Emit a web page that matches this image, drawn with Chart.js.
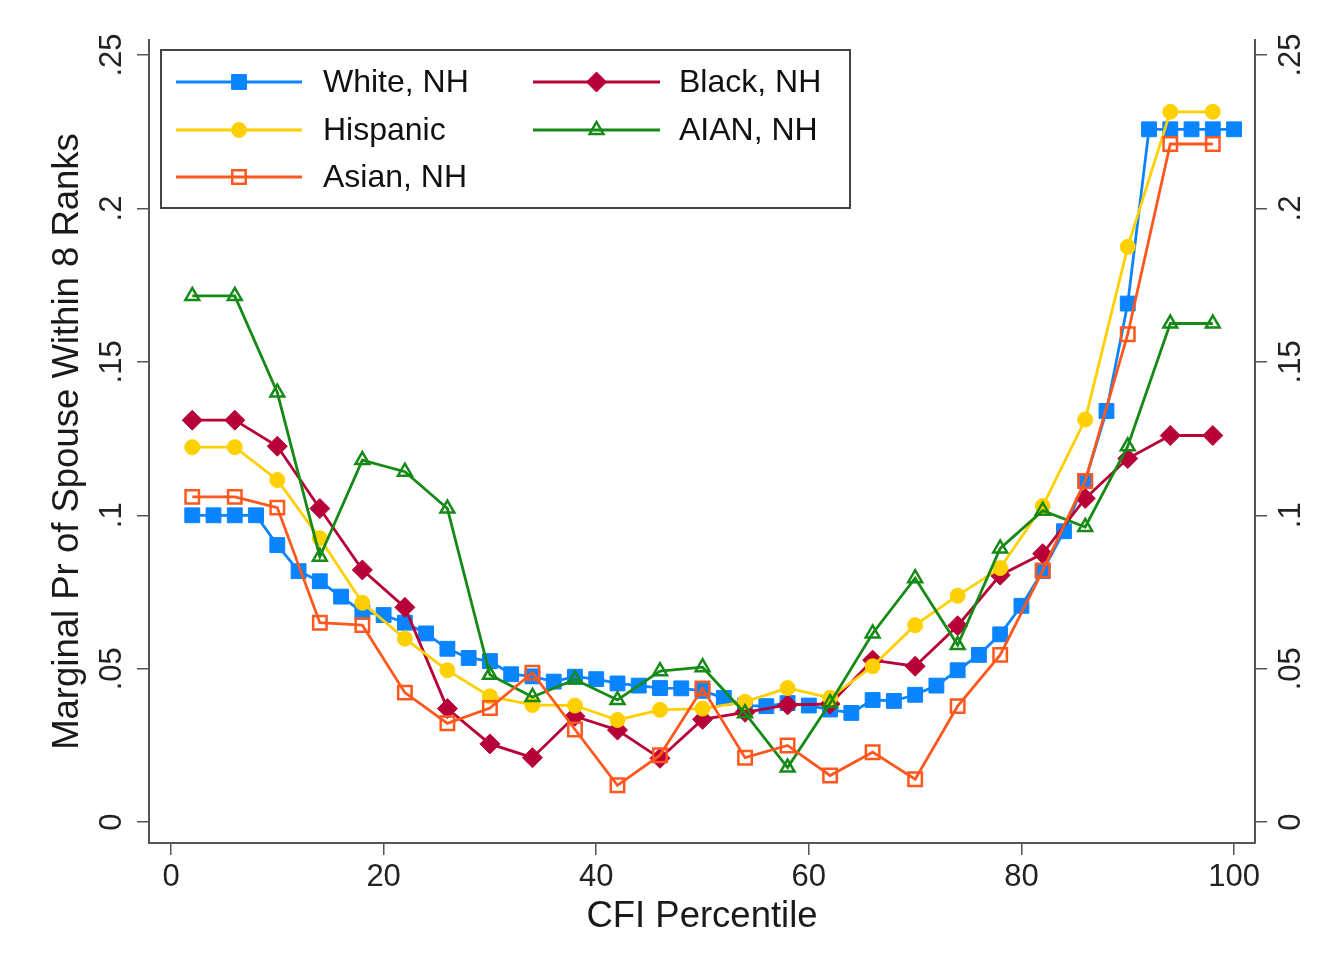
<!DOCTYPE html>
<html>
<head>
<meta charset="utf-8">
<script src="https://cdn.jsdelivr.net/npm/chart.js@4.4.1/dist/chart.umd.min.js"></script>
<style>
html,body{margin:0;padding:0;background:#fff;}
#wrap{width:1332px;height:974px;position:relative;}
</style>
</head>
<body>
<div id="wrap"><canvas id="c"></canvas></div>
<script>
// ---- data ----
const pctWhite = [2,4,6,8,10,12,14,16,18,20,22,24,26,28,30,32,34,36,38,40,42,44,46,48,50,
                  52,54,56,58,60,62,64,66,68,70,72,74,76,78,80,82,84,86,88,90,92,94,96,98,100];
const pctGroups = [2,6,10,14,18,22,26,30,34,38,42,46,50,54,58,62,66,70,74,78,82,86,90,94,98];

const whiteNH = [0.100,0.100,0.100,0.100,0.0903,0.0818,0.0785,0.0735,0.0685,0.0675,0.0650,0.0615,0.0565,0.0535,0.0525,
                 0.0482,0.0475,0.0458,0.0474,0.0466,0.0452,0.0445,0.0437,0.0436,0.0428,0.0405,0.0380,0.0378,0.0388,0.0380,
                 0.0367,0.0356,0.0398,0.0395,0.0415,0.0445,0.0495,0.0545,0.0612,0.0705,0.0818,0.0948,0.1112,0.1340,0.1690,
                 0.2258,0.2258,0.2258,0.2258,0.2258];
const hispanic = [0.1222,0.1222,0.1115,0.0925,0.0715,0.0598,0.0495,0.0410,0.0382,0.0380,0.0333,0.0366,0.0370,
                  0.0392,0.0437,0.0405,0.0508,0.0642,0.0738,0.0828,0.1030,0.1312,0.1875,0.2315,0.2315];
const asianNH = [0.1060,0.1060,0.1025,0.0650,0.0642,0.0422,0.0322,0.0372,0.0487,0.0302,0.0120,0.0218,0.0436,
                 0.0210,0.0250,0.0152,0.0228,0.0140,0.0378,0.0545,0.0820,0.1112,0.1590,0.2210,0.2210];
const blackNH = [0.1310,0.1310,0.1225,0.1022,0.0822,0.0700,0.0370,0.0255,0.0210,0.0345,0.0300,0.0208,0.0335,
                 0.0358,0.0382,0.0385,0.0528,0.0508,0.0640,0.0805,0.0875,0.1055,0.1185,0.1260,0.1260];
const aianNH = [0.1715,0.1715,0.1400,0.0865,0.1180,0.1142,0.1022,0.0480,0.0408,0.0465,0.0398,0.0492,0.0505,
                0.0355,0.0178,0.0388,0.0615,0.0795,0.0577,0.0892,0.1015,0.0962,0.1225,0.1625,0.1625];

const xTicks = [0,20,40,60,80,100];
const yTicks = [0,0.05,0.1,0.15,0.2,0.25];
const yTickLabels = ["0",".05",".1",".15",".2",".25"];
const seriesNames = ["White, NH","Black, NH","Hispanic","AIAN, NH","Asian, NH"];

// ---- styles ----
const C_WHITE = 'rgb(10,132,255)';
const C_BLACK = 'rgb(184,0,56)';
const C_HISP  = 'rgb(255,208,0)';
const C_AIAN  = 'rgb(22,138,22)';
const C_ASIAN = 'rgb(255,88,30)';
const AXIS = '#555';
const FONT = '"Liberation Sans", Arial, Helvetica, sans-serif';
const LW = 2.8;

function pts(xs, ys){ return xs.map((x,i)=>({x:x, y:ys[i]})); }

const datasets = [
  {label:seriesNames[0], data:pts(pctWhite,whiteNH), borderColor:C_WHITE, backgroundColor:C_WHITE,
   pointStyle:'rect', pointRadius:10.5, pointBorderWidth:1, borderWidth:LW, order:5},
  {label:seriesNames[1], data:pts(pctGroups,blackNH), borderColor:C_BLACK, backgroundColor:C_BLACK,
   pointStyle:'rectRot', pointRadius:10, pointBorderWidth:1, borderWidth:LW, order:4},
  {label:seriesNames[2], data:pts(pctGroups,hispanic), borderColor:C_HISP, backgroundColor:C_HISP,
   pointStyle:'circle', pointRadius:7.5, pointBorderWidth:1, borderWidth:LW, order:3},
  {label:seriesNames[3], data:pts(pctGroups,aianNH), borderColor:C_AIAN, backgroundColor:'rgba(0,0,0,0)',
   pointStyle:'triangle', pointRadius:8, pointBorderWidth:2.5, borderWidth:LW, order:2},
  {label:seriesNames[4], data:pts(pctGroups,asianNH), borderColor:C_ASIAN, backgroundColor:'rgba(0,0,0,0)',
   pointStyle:'rect', pointRadius:9.5, pointBorderWidth:2.5, borderWidth:LW, order:1}
];
datasets.forEach(d=>{ d.pointBorderColor=d.borderColor; d.pointBackgroundColor=d.backgroundColor;
  d.pointHoverRadius=d.pointRadius; d.tension=0; d.fill=false; });

// ---- legend drawn inside plot ----
function marker(ctx, style, r, x, y, fill, stroke, bw){
  ctx.save();
  ctx.beginPath();
  if (style==='rect'){ const s=Math.SQRT1_2*r; ctx.rect(x-s,y-s,2*s,2*s); }
  else if (style==='rectRot'){ ctx.moveTo(x-r,y); ctx.lineTo(x,y-r); ctx.lineTo(x+r,y); ctx.lineTo(x,y+r); ctx.closePath(); }
  else if (style==='circle'){ ctx.arc(x,y,r,0,Math.PI*2); }
  else if (style==='triangle'){ ctx.moveTo(x,y-r); ctx.lineTo(x+0.866*r,y+r/2); ctx.lineTo(x-0.866*r,y+r/2); ctx.closePath(); }
  ctx.fillStyle=fill; ctx.fill();
  ctx.lineWidth=bw; ctx.strokeStyle=stroke; ctx.stroke();
  ctx.restore();
}
const legendPlugin = {
  id:'insideLegend',
  afterDraw(chart){
    const ctx = chart.ctx, a = chart.chartArea;
    const bx = a.left+12, by = a.top+10, bw = 689, bh = 158;
    ctx.save();
    ctx.fillStyle='#fff'; ctx.fillRect(bx,by,bw,bh);
    ctx.lineWidth=2; ctx.strokeStyle='#444'; ctx.strokeRect(bx,by,bw,bh);
    const items = [datasets[0],datasets[2],datasets[4],datasets[1],datasets[3]];
    const rows = [32,80,127];
    const colLine = [[bx+15,bx+141],[bx+372,bx+499]];
    const colText = [bx+162, bx+518];
    const rowIdx = [0,1,2,0,1];
    items.forEach((d,k)=>{
      const col = k<3?0:1; const y = by+rows[rowIdx[k]];
      const [x0,x1] = colLine[col];
      ctx.beginPath(); ctx.moveTo(x0,y); ctx.lineTo(x1,y);
      ctx.lineWidth=LW; ctx.strokeStyle=d.borderColor; ctx.stroke();
      marker(ctx, d.pointStyle, d.pointRadius, (x0+x1)/2, y, d.backgroundColor, d.borderColor, d.pointBorderWidth);
      ctx.fillStyle='#111'; ctx.font='32px '+FONT; ctx.textBaseline='middle'; ctx.textAlign='left';
      ctx.fillText(d.label, colText[col], y+1);
    });
    ctx.restore();
  }
};

const yCommon = {
  type:'linear', min:-0.0068, max:0.2549,
  afterBuildTicks(s){ s.ticks = yTicks.map(v=>({value:v})); },
  grid:{drawOnChartArea:false, drawTicks:true, tickLength:12, color:AXIS, lineWidth:1.5},
  border:{display:true, color:AXIS, width:2},
  ticks:{minRotation:90, maxRotation:90, crossAlign:'center', padding:3, color:'#222',
         font:{size:31, family:FONT},
         callback:(v)=>{ const i=yTicks.findIndex(t=>Math.abs(t-v)<1e-9); return i>=0?yTickLabels[i]:''; }}
};

new Chart(document.getElementById('c'), {
  type:'line',
  data:{datasets:datasets},
  options:{
    responsive:true, maintainAspectRatio:false, animation:false,
    layout:{padding:{top:40,left:0,right:0,bottom:0}},
    plugins:{legend:{display:false}, tooltip:{enabled:false}},
    scales:{
      x:{type:'linear', min:-2.07, max:101.97, position:'bottom',
         afterBuildTicks(s){ s.ticks = xTicks.map(v=>({value:v})); },
         afterFit(s){ s.height = 131; },
         grid:{drawOnChartArea:false, drawTicks:true, tickLength:12, color:AXIS, lineWidth:1.5},
         border:{display:true, color:AXIS, width:2},
         ticks:{padding:4, color:'#222', maxRotation:0, font:{size:31, family:FONT}},
         title:{display:true, text:'CFI Percentile', color:'#1a1a1a', font:{size:36.5, family:FONT},
                padding:{top:0,bottom:35}}
      },
      y:Object.assign({}, yCommon, {position:'left',
         afterFit(s){ s.width = 149; },
         title:{display:true, text:'Marginal Pr of Spouse Within 8 Ranks', color:'#1a1a1a',
                font:{size:36.5, family:FONT}, padding:{top:46,bottom:0}}}),
      y2:Object.assign({}, yCommon, {position:'right', padding:5,
         afterFit(s){ s.width = 77; }, title:{display:false}})
    }
  },
  plugins:[legendPlugin]
});
</script>
</body>
</html>
